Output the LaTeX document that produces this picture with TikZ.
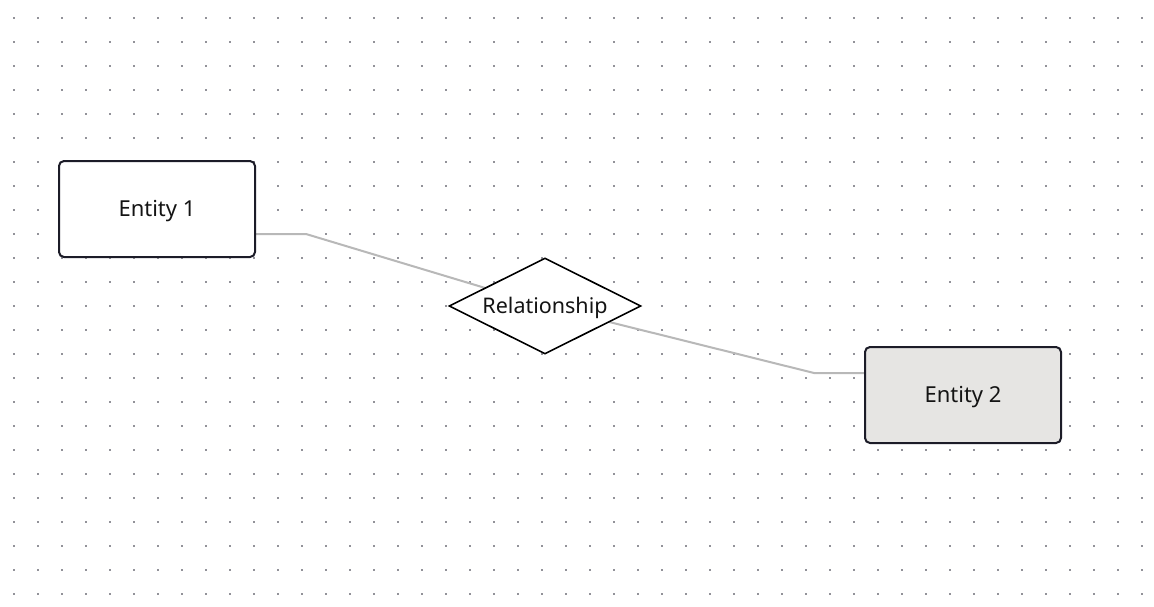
\documentclass[tikz,border=0pt]{standalone}
\usepackage{fontspec}
\setmainfont{Noto Sans}
\usetikzlibrary{shapes.geometric}
\pgfdeclarelayer{grid}
\pgfdeclarelayer{edges}
\pgfsetlayers{grid,edges,main}
\definecolor{dotc}{HTML}{929299}
\definecolor{linec}{HTML}{B8B8B8}
\definecolor{boxc}{HTML}{1C1C28}
\definecolor{fill2}{HTML}{E6E5E3}
\definecolor{txt}{HTML}{141414}
\tikzset{
  entity/.style={draw=boxc, line width=2pt, rounded corners=5pt, fill=white,
    minimum width=196pt, minimum height=96pt, inner sep=0pt,
    text height=15.5pt, text depth=0pt,
    font=\fontsize{22}{25}\selectfont, text=txt},
  relbox/.style={draw=black, line width=1.6pt, shape=diamond, aspect=2, fill=white,
    minimum width=192pt, minimum height=96pt, inner sep=0pt,
    text height=15.5pt, text depth=0pt,
    font=\fontsize{21.5}{25}\selectfont, text=txt},
  conn/.style={draw=linec, line width=2pt},
  griddot/.style={fill=dotc}
}
\begin{document}
\begin{tikzpicture}[x=1pt,y=-1pt]
\useasboundingbox (0,0) rectangle (1154,606);
\begin{pgfonlayer}{grid}
\fill[white] (0,0) rectangle (1154,606);
\foreach \i in {0,...,47}{
  \foreach \j in {0,...,24}{
    \fill[griddot] ({14+24*\i-1},{18+24*\j-1}) rectangle ++(2,2);
  }
}
\end{pgfonlayer}
\node[entity] (e1) at (157,209) {Entity 1};
\node[entity, fill=fill2] (e2) at (963,395) {Entity 2};
\node[relbox] (rel) at (545,306) {Relationship};
\coordinate (b1) at (306,234);
\coordinate (b2) at (814,373);
\begin{pgfonlayer}{edges}
\draw[conn] ([yshift=-25pt]e1.east) -- (b1) -- (rel.center);
\draw[conn] (rel.center) -- (b2) -- ([yshift=22pt]e2.west);
\end{pgfonlayer}
\end{tikzpicture}
\end{document}
